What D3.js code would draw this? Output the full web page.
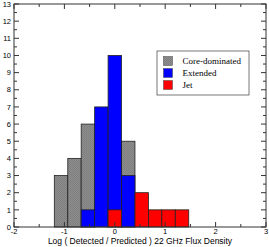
<!DOCTYPE html>
<html>
<head>
<script src="https://d3js.org/d3.v7.min.js"></script>
<style>
  body { margin: 0; background: #fff; }
  svg { display: block; }
</style>
</head>
<body>
<div id="viz"></div>
<script>
// histogram bins (lower edge, upper edge) and counts per class
var binLo  = [-1.2, -0.933, -0.667, -0.4, -0.133, 0.133, 0.4, 0.667, 0.933, 1.2];
var binHi  = [-0.933, -0.667, -0.4, -0.133, 0.133, 0.4, 0.667, 0.933, 1.2, 1.467];
var coreCounts = [3, 4, 6, 0, 0, 5, 0, 0, 0, 0];
var extCounts  = [0, 0, 1, 7, 10, 3, 0, 0, 0, 0];
var jetCounts  = [0, 0, 0, 0, 1, 0, 2, 1, 1, 1];
var xTicks = [-2, -1, 0, 1, 2, 3];
var yTicks = d3.range(0, 14);
var legendNames = ["Core-dominated", "Extended", "Jet"];

var W = 269, H = 247;
var L = 14, R = 266, T = 4, B = 227;

var svg = d3.select("#viz").append("svg")
    .attr("width", W)
    .attr("height", H);

// stippled grey like the original
var pat = svg.append("defs").append("pattern")
    .attr("id", "stip")
    .attr("width", 2).attr("height", 2)
    .attr("patternUnits", "userSpaceOnUse");
pat.append("rect").attr("width", 2).attr("height", 2).attr("fill", "#8e8e8e");
pat.append("rect").attr("width", 1).attr("height", 1).attr("fill", "#7c7c7c");
pat.append("rect").attr("x", 1).attr("y", 1).attr("width", 1).attr("height", 1).attr("fill", "#808080");

var x = d3.scaleLinear().domain([-2, 3]).range([L, R]);
var y = d3.scaleLinear().domain([0, 13]).range([B, T]);

var series = [
    {counts: coreCounts, fill: "url(#stip)"},
    {counts: extCounts, fill: "#0000ff"},
    {counts: jetCounts, fill: "#ff0000"}
];

series.forEach(function(s) {
    var bins = s.counts.map(function(c, i) { return {c: c, lo: binLo[i], hi: binHi[i]}; })
        .filter(function(d) { return d.c > 0; });
    svg.append("g").selectAll("rect")
        .data(bins)
        .enter().append("rect")
        .attr("x", function(d) { return x(d.lo); })
        .attr("y", function(d) { return y(d.c); })
        .attr("width", function(d) { return x(d.hi) - x(d.lo); })
        .attr("height", function(d) { return y(0) - y(d.c); })
        .attr("fill", s.fill)
        .attr("stroke", "#222")
        .attr("stroke-width", 0.8);
});

// axes: ticks inside on all four sides
var frame = "#333";
var xMinor = d3.range(-2, 3.01, 0.5);
var yMinor = d3.range(0, 13.01, 0.5);

function tickLen(v) { return Math.abs(v - Math.round(v)) < 1e-6 ? 5 : 3; }

var ax = svg.append("g").attr("stroke", frame).attr("stroke-width", 1);
xMinor.forEach(function(v) {
    var len = tickLen(v);
    ax.append("line").attr("x1", x(v)).attr("x2", x(v)).attr("y1", B).attr("y2", B - len);
    ax.append("line").attr("x1", x(v)).attr("x2", x(v)).attr("y1", T).attr("y2", T + len);
});
yMinor.forEach(function(v) {
    var len = tickLen(v);
    ax.append("line").attr("x1", L).attr("x2", L + len).attr("y1", y(v)).attr("y2", y(v));
    ax.append("line").attr("x1", R).attr("x2", R - len).attr("y1", y(v)).attr("y2", y(v));
});
svg.append("rect")
    .attr("x", L).attr("y", T)
    .attr("width", R - L).attr("height", B - T)
    .attr("fill", "none").attr("stroke", frame).attr("stroke-width", 1);

svg.append("g").selectAll("text")
    .data(xTicks).enter().append("text")
    .attr("x", function(d) { return x(d); })
    .attr("y", 234)
    .attr("text-anchor", "middle")
    .attr("font-family", "Liberation Sans, Arial, sans-serif")
    .attr("font-size", 7.5)
    .text(function(d) { return d; });

svg.append("g").selectAll("text")
    .data(yTicks).enter().append("text")
    .attr("x", L - 3)
    .attr("y", function(d) { return y(d) + 2.7; })
    .attr("text-anchor", "end")
    .attr("font-family", "Liberation Sans, Arial, sans-serif")
    .attr("font-size", 7.5)
    .text(function(d) { return d; });

svg.append("text")
    .attr("x", 140)
    .attr("y", 244)
    .attr("text-anchor", "middle")
    .attr("font-family", "Liberation Sans, Arial, sans-serif")
    .attr("font-size", 8.5)
    .text("Log ( Detected / Predicted ) 22 GHz Flux Density");

// legend
var lg = svg.append("g");
lg.append("rect")
    .attr("x", 157).attr("y", 51)
    .attr("width", 92).attr("height", 44)
    .attr("fill", "#fff").attr("stroke", "#555").attr("stroke-width", 0.8);
var lgFills = ["url(#stip)", "#0000ff", "#ff0000"];
legendNames.forEach(function(n, i) {
    var cy = 61 + i * 12;
    lg.append("rect")
        .attr("x", 163.5).attr("y", cy - 4.5)
        .attr("width", 9).attr("height", 9)
        .attr("fill", lgFills[i]).attr("stroke", "#444").attr("stroke-width", 0.5);
    lg.append("text")
        .attr("x", 182.5).attr("y", cy + 3)
        .attr("font-family", "Liberation Serif, Times New Roman, serif")
        .attr("font-size", 9)
        .text(n);
});
</script>
</body>
</html>
